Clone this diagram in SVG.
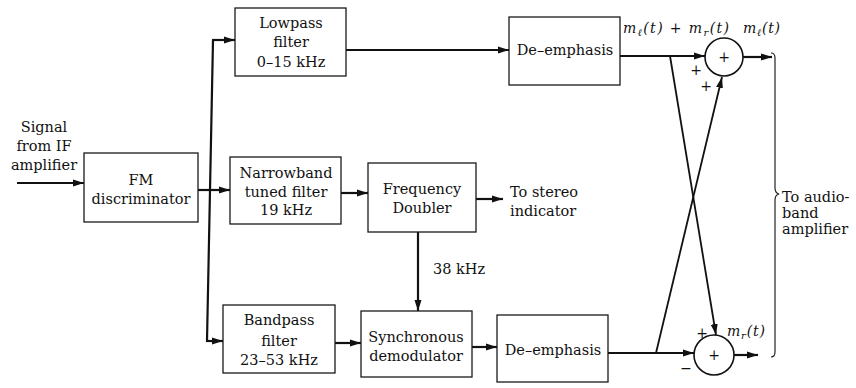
<svg xmlns="http://www.w3.org/2000/svg" width="856" height="388" viewBox="0 0 856 388">
<style>
  .box{fill:#fff;stroke:#1a1a1a;stroke-width:1.3}
  .sum{fill:#fff;stroke:#111;stroke-width:1.6}
  .wire{fill:none;stroke:#111;stroke-width:2.2}
  .thin{fill:none;stroke:#111;stroke-width:1.8}
  .t{font-family:'DejaVu Serif',serif;font-size:14.5px;fill:#111}
  .c{text-anchor:middle}
  .m{font-family:'DejaVu Serif',serif;font-size:14px;font-style:italic;fill:#111}
  .s{font-family:'DejaVu Serif',serif;font-size:14px;fill:#111;text-anchor:middle}
</style>
<defs>
  <marker id="ah" markerUnits="userSpaceOnUse" markerWidth="12" markerHeight="8" refX="11" refY="4" orient="auto">
    <path d="M0,0.5 L11,4 L0,7.5 z" fill="#111"/>
  </marker>
</defs>

<g id="connectors">
  <line class="wire" x1="17" y1="183" x2="84" y2="183" marker-end="url(#ah)"/>
  <line class="wire" x1="198" y1="190" x2="210" y2="190"/>
  <line class="wire" x1="213" y1="40" x2="207" y2="341"/>
  <line class="wire" x1="212" y1="40" x2="235" y2="40" marker-end="url(#ah)"/>
  <line class="wire" x1="210" y1="190" x2="230" y2="190" marker-end="url(#ah)"/>
  <line class="wire" x1="206" y1="341" x2="223" y2="341" marker-end="url(#ah)"/>
  <line class="wire" x1="346" y1="50" x2="509" y2="50" marker-end="url(#ah)"/>
  <line class="wire" x1="341" y1="193" x2="368" y2="193" marker-end="url(#ah)"/>
  <line class="wire" x1="476" y1="199" x2="503" y2="199" marker-end="url(#ah)"/>
  <line class="wire" x1="418" y1="232" x2="418" y2="311" marker-end="url(#ah)"/>
  <line class="wire" x1="335" y1="343" x2="361" y2="343" marker-end="url(#ah)"/>
  <line class="wire" x1="472" y1="347" x2="497" y2="347" marker-end="url(#ah)"/>
  <line class="wire" x1="620" y1="56" x2="705" y2="56" marker-end="url(#ah)"/>
  <line class="wire" x1="743" y1="57" x2="772" y2="57" marker-end="url(#ah)"/>
  <line class="thin" x1="670" y1="56" x2="716" y2="335" marker-end="url(#ah)"/>
  <line class="thin" x1="656" y1="353" x2="722" y2="77" marker-end="url(#ah)"/>
  <line class="wire" x1="608" y1="353" x2="694" y2="353" marker-end="url(#ah)"/>
  <line class="wire" x1="734" y1="355" x2="758" y2="355" marker-end="url(#ah)"/>
  <path d="M771,53 Q775,53 775,58 L775,188 Q775,193 779,194 Q775,195 775,200 L775,352 Q775,357 771,357" fill="none" stroke="#222" stroke-width="1.2"/>
</g>

<g id="input">
  <text class="t c" x="44" y="132">Signal</text>
  <text class="t c" x="44" y="151">from IF</text>
  <text class="t c" x="44" y="170">amplifier</text>
</g>

<g id="fm-discriminator">
  <rect class="box" x="84" y="153" width="114" height="69"/>
  <text class="t c" x="141" y="185">FM</text>
  <text class="t c" x="141" y="204">discriminator</text>
</g>

<g id="lowpass-filter">
  <rect class="box" x="235" y="8" width="111" height="68"/>
  <text class="t c" x="291" y="28">Lowpass</text>
  <text class="t c" x="291" y="47">filter</text>
  <text class="t c" x="291" y="67">0–15 kHz</text>
</g>

<g id="narrowband-filter">
  <rect class="box" x="230" y="157" width="111" height="67"/>
  <text class="t c" x="286" y="178">Narrowband</text>
  <text class="t c" x="286" y="197">tuned filter</text>
  <text class="t c" x="286" y="215">19 kHz</text>
</g>

<g id="bandpass-filter">
  <rect class="box" x="223" y="305" width="112" height="68"/>
  <text class="t c" x="279" y="325">Bandpass</text>
  <text class="t c" x="279" y="346">filter</text>
  <text class="t c" x="279" y="365">23–53 kHz</text>
</g>

<g id="frequency-doubler">
  <rect class="box" x="368" y="163" width="108" height="69"/>
  <text class="t c" x="422" y="194">Frequency</text>
  <text class="t c" x="422" y="213">Doubler</text>
</g>

<g id="stereo-indicator">
  <text class="t" x="510" y="197">To stereo</text>
  <text class="t" x="510" y="216">indicator</text>
</g>

<g id="label-38khz">
  <text class="t" x="433" y="274">38 kHz</text>
</g>

<g id="synchronous-demodulator">
  <rect class="box" x="361" y="311" width="111" height="66"/>
  <text class="t c" x="416" y="342">Synchronous</text>
  <text class="t c" x="416" y="361">demodulator</text>
</g>

<g id="de-emphasis-top">
  <rect class="box" x="509" y="17" width="111" height="68"/>
  <text class="t c" x="565" y="55">De–emphasis</text>
</g>

<g id="de-emphasis-bottom">
  <rect class="box" x="497" y="315" width="111" height="67"/>
  <text class="t c" x="553" y="355">De–emphasis</text>
</g>

<g id="sum-top">
  <circle class="sum" cx="724" cy="57" r="19"/>
  <text class="s" x="724" y="62">+</text>
  <text class="s" x="696" y="75">+</text>
  <text class="s" x="706" y="91">+</text>
  <text class="m" x="623" y="33" textLength="106" lengthAdjust="spacing">m<tspan dy="3" font-size="10">ℓ</tspan><tspan dy="-3">(t) + m</tspan><tspan dy="3" font-size="10">r</tspan><tspan dy="-3">(t)</tspan></text>
  <text class="m" x="743" y="33" textLength="37" lengthAdjust="spacing">m<tspan dy="3" font-size="10">ℓ</tspan><tspan dy="-3">(t)</tspan></text>
</g>

<g id="sum-bottom">
  <circle class="sum" cx="714" cy="355" r="20"/>
  <text class="s" x="714" y="360">+</text>
  <text class="s" x="702" y="338">+</text>
  <text class="s" x="686" y="373">−</text>
  <text class="m" x="727" y="336" textLength="38" lengthAdjust="spacing">m<tspan dy="3" font-size="10">r</tspan><tspan dy="-3">(t)</tspan></text>
</g>

<g id="audio-amplifier">
  <text class="t" x="782" y="202">To audio-</text>
  <text class="t" x="782" y="218">band</text>
  <text class="t" x="782" y="234">amplifier</text>
</g>
</svg>
